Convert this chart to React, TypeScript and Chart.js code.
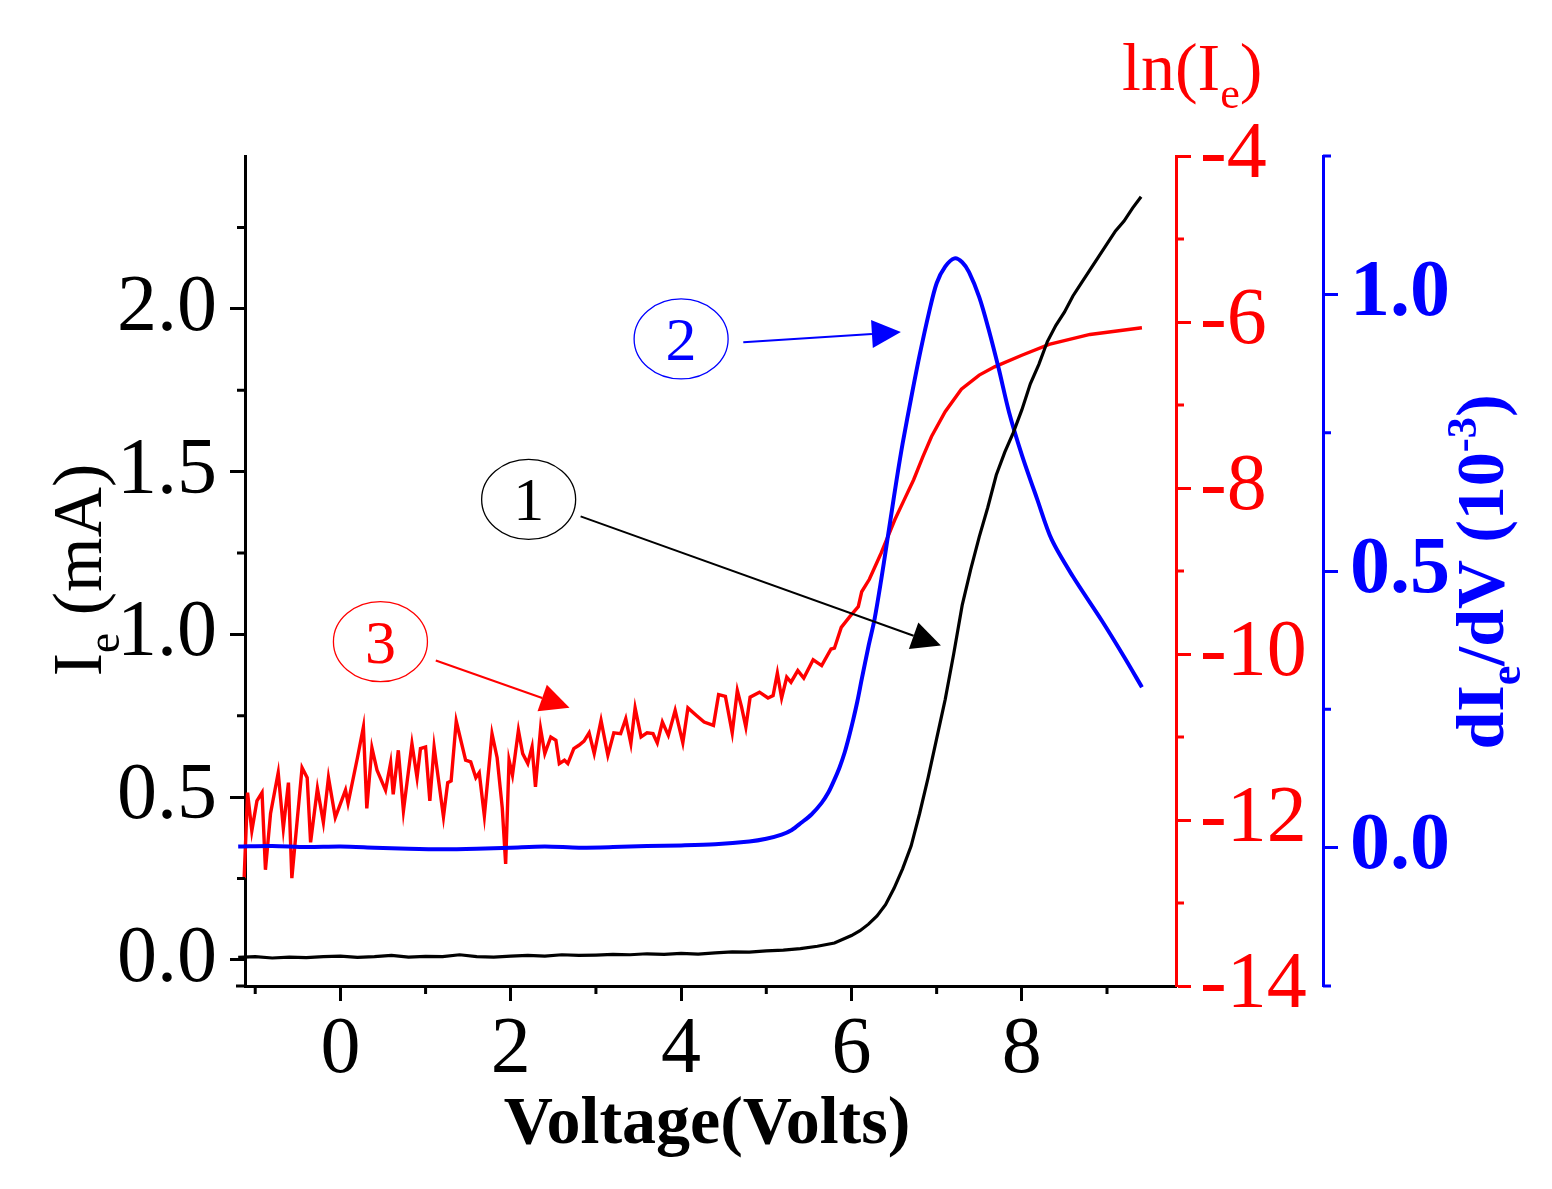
import { Chart, registerables } from 'chart.js';
import { useEffect, useRef } from 'react';

Chart.register(...registerables);

const FONT = '"Liberation Serif", "Times New Roman", Times, serif';

// curve 1: electron current Ie (mA)
const voltageIe = [-1.2, -1.0, -0.8, -0.6, -0.4, -0.2, 0.0, 0.2, 0.4, 0.6, 0.8, 1.0, 1.2, 1.4, 1.6, 1.8, 2.0, 2.2, 2.4, 2.6, 2.8, 3.0, 3.2, 3.4, 3.6, 3.8, 4.0, 4.2, 4.4, 4.6, 4.8, 5.0, 5.2, 5.4, 5.6, 5.8, 6.0, 6.1, 6.2, 6.3, 6.4, 6.5, 6.6, 6.7, 6.8, 6.9, 7.0, 7.1, 7.2, 7.3, 7.4, 7.5, 7.6, 7.7, 7.8, 7.9, 8.0, 8.1, 8.2, 8.3, 8.4, 8.5, 8.6, 8.7, 8.8, 8.9, 9.0, 9.1, 9.2, 9.3, 9.4];
const currentIe = [0.008, 0.01, 0.006, 0.009, 0.007, 0.01, 0.012, 0.008, 0.01, 0.014, 0.009, 0.011, 0.01, 0.016, 0.01, 0.009, 0.012, 0.014, 0.012, 0.016, 0.014, 0.015, 0.017, 0.016, 0.019, 0.017, 0.02, 0.018, 0.022, 0.025, 0.024, 0.028, 0.03, 0.035, 0.042, 0.052, 0.075, 0.09, 0.11, 0.135, 0.17, 0.22, 0.28, 0.35, 0.45, 0.56, 0.68, 0.8, 0.94, 1.09, 1.2, 1.3, 1.39, 1.49, 1.56, 1.62, 1.69, 1.77, 1.83, 1.9, 1.95, 1.99, 2.04, 2.08, 2.12, 2.16, 2.2, 2.24, 2.27, 2.31, 2.345];

// curve 2: derivative dIe/dV (10^-3)
const voltageDiff = [-1.2, -0.8, -0.4, 0.0, 0.4, 0.8, 1.2, 1.6, 2.0, 2.4, 2.8, 3.2, 3.6, 4.0, 4.4, 4.8, 5.0, 5.18, 5.3, 5.41, 5.53, 5.65, 5.73, 5.8, 5.86, 5.92, 5.97, 6.02, 6.07, 6.12, 6.2, 6.27, 6.35, 6.41, 6.47, 6.53, 6.6, 6.71, 6.8, 6.91, 7.0, 7.1, 7.21, 7.3, 7.38, 7.5, 7.61, 7.73, 7.85, 8.0, 8.18, 8.35, 8.6, 8.94, 9.2, 9.41];
const dIdV = [0.002, 0.003, 0.001, 0.002, 0.0, -0.002, -0.003, -0.002, 0.0, 0.002, 0.0, 0.001, 0.003, 0.004, 0.006, 0.011, 0.016, 0.0235, 0.032, 0.045, 0.06, 0.081, 0.1, 0.123, 0.145, 0.172, 0.2, 0.231, 0.265, 0.304, 0.364, 0.412, 0.485, 0.545, 0.605, 0.665, 0.73, 0.82, 0.89, 0.967, 1.02, 1.05, 1.065, 1.058, 1.04, 0.995, 0.937, 0.865, 0.787, 0.71, 0.63, 0.557, 0.49, 0.41, 0.345, 0.29];

// curve 3: ln(Ie)
const voltageLn = [-1.2, -1.18, -1.16, -1.13, -1.09, -1.04, -0.98, -0.92, -0.88, -0.82, -0.73, -0.67, -0.61, -0.57, -0.45, -0.39, -0.35, -0.27, -0.2, -0.14, -0.06, 0.06, 0.09, 0.2, 0.27, 0.31, 0.37, 0.43, 0.53, 0.59, 0.62, 0.68, 0.74, 0.84, 0.9, 0.94, 1.0, 1.05, 1.1, 1.21, 1.26, 1.3, 1.36, 1.47, 1.53, 1.59, 1.63, 1.69, 1.78, 1.84, 1.9, 1.94, 1.98, 2.02, 2.09, 2.14, 2.2, 2.25, 2.29, 2.35, 2.4, 2.47, 2.53, 2.57, 2.63, 2.67, 2.74, 2.8, 2.86, 2.92, 2.98, 3.06, 3.14, 3.21, 3.29, 3.35, 3.41, 3.46, 3.53, 3.6, 3.67, 3.72, 3.78, 3.85, 3.93, 4.02, 4.08, 4.18, 4.27, 4.38, 4.44, 4.52, 4.6, 4.66, 4.71, 4.76, 4.81, 4.92, 5.02, 5.08, 5.13, 5.18, 5.24, 5.29, 5.37, 5.44, 5.55, 5.65, 5.76, 5.8, 5.88, 5.98, 6.08, 6.12, 6.21, 6.35, 6.51, 6.62, 6.73, 6.84, 6.94, 7.1, 7.29, 7.5, 7.68, 8.0, 8.32, 8.8, 9.41];
const lnIe = [-13.5, -12.55, -13.1, -12.7, -11.67, -12.13, -11.77, -11.67, -12.6, -11.92, -11.43, -12.1, -11.55, -12.7, -11.37, -11.49, -12.27, -11.62, -12.03, -11.49, -11.97, -11.64, -11.8, -11.25, -10.88, -11.86, -11.13, -11.4, -11.64, -11.31, -11.69, -11.16, -11.89, -11.08, -11.49, -11.14, -11.12, -11.77, -11.12, -11.96, -11.55, -11.53, -10.81, -11.28, -11.3, -11.49, -11.43, -11.95, -10.96, -11.25, -11.85, -12.53, -11.28, -11.46, -10.92, -11.2, -11.32, -11.12, -11.6, -10.9, -11.2, -11.0, -11.04, -11.32, -11.28, -11.32, -11.14, -11.1, -11.05, -10.95, -11.2, -10.8, -11.22, -10.95, -10.96, -10.78, -11.08, -10.65, -11.0, -10.95, -10.96, -11.07, -10.82, -10.98, -10.68, -11.07, -10.65, -10.74, -10.82, -10.86, -10.49, -10.51, -10.95, -10.44, -10.64, -10.88, -10.52, -10.46, -10.53, -10.5, -10.23, -10.53, -10.28, -10.34, -10.2, -10.29, -10.07, -10.14, -9.94, -9.93, -9.68, -9.55, -9.43, -9.25, -9.1, -8.78, -8.38, -8.14, -7.9, -7.62, -7.38, -7.08, -6.81, -6.64, -6.54, -6.4, -6.27, -6.15, -6.07];

// labelled ticks for each axis
const xTicks = [0, 2, 4, 6, 8];
const ieTicks = [0, 0.5, 1.0, 1.5, 2.0];
const lnTicks = [-14, -12, -10, -8, -6, -4];
const diffTicks = [0, 0.5, 1.0];

// minor tick values for each axis
const xMinor = [-1, 1, 3, 5, 7, 9];
const ieMinor = [0.25, 0.75, 1.25, 1.75, 2.25];
const lnMinor = [-13, -11, -9, -7, -5];
const diffMinor = [-0.25, 0.25, 0.75, 1.25];

// numbered callouts, in data units of the x / Ie axes
const callouts = [
    { label: '1', color: '#000000', cx: 2.21, cy: 1.415, fromX: 2.82, fromY: 1.363, toX: 7.05, toY: 0.966 },
    { label: '2', color: '#0000ff', cx: 4.0, cy: 1.908, fromX: 4.73, fromY: 1.898, toX: 6.58, toY: 1.929 },
    { label: '3', color: '#ff0000', cx: 0.47, cy: 0.978, fromX: 1.12, fromY: 0.92, toX: 2.69, toY: 0.775 },
];

type Seg = { text: string; shift?: number; scale?: number };

function drawRich(ctx: CanvasRenderingContext2D, segs: Seg[], x: number, y: number, size: number, weight: string, color: string, rotate: boolean, align: 'center' | 'left') {
    ctx.save();
    ctx.translate(x, y);
    if (rotate) ctx.rotate(-Math.PI / 2);
    ctx.fillStyle = color;
    ctx.textBaseline = 'alphabetic';
    ctx.textAlign = 'left';
    const widths = segs.map((s) => {
        ctx.font = `${weight} ${size * (s.scale ?? 1)}px ${FONT}`;
        return ctx.measureText(s.text).width;
    });
    const total = widths.reduce((a, b) => a + b, 0);
    let cx = align === 'center' ? -total / 2 : 0;
    segs.forEach((s, i) => {
        ctx.font = `${weight} ${size * (s.scale ?? 1)}px ${FONT}`;
        ctx.fillText(s.text, cx, (s.shift ?? 0) * size);
        cx += widths[i];
    });
    ctx.restore();
}

function drawArrow(ctx: CanvasRenderingContext2D, x1: number, y1: number, x2: number, y2: number, color: string) {
    const ang = Math.atan2(y2 - y1, x2 - x1);
    const len = 29;
    const half = 14;
    const bx = x2 - Math.cos(ang) * len;
    const by = y2 - Math.sin(ang) * len;
    ctx.save();
    ctx.strokeStyle = color;
    ctx.fillStyle = color;
    ctx.lineWidth = 2;
    ctx.beginPath();
    ctx.moveTo(x1, y1);
    ctx.lineTo(bx, by);
    ctx.stroke();
    ctx.beginPath();
    ctx.moveTo(x2, y2);
    ctx.lineTo(bx + Math.sin(ang) * half, by - Math.cos(ang) * half);
    ctx.lineTo(bx - Math.sin(ang) * half, by + Math.cos(ang) * half);
    ctx.closePath();
    ctx.fill();
    ctx.restore();
}

const decorPlugin = {
    id: 'decor',
    afterDraw(chart: Chart) {
        const ctx = chart.ctx;
        const { x, yIe, yLn, yDiff } = chart.scales as any;
        const area = chart.chartArea;

        ctx.save();
        ctx.lineWidth = 3;
        // x axis runs a little past the left axis
        ctx.strokeStyle = '#000000';
        ctx.beginPath();
        ctx.moveTo(area.left - 9, area.bottom);
        ctx.lineTo(area.left, area.bottom);
        ctx.stroke();

        // minor ticks
        ctx.beginPath();
        xMinor.forEach((v) => {
            const px = x.getPixelForValue(v);
            ctx.moveTo(px, area.bottom);
            ctx.lineTo(px, area.bottom + 8);
        });
        ieMinor.forEach((v) => {
            const py = yIe.getPixelForValue(v);
            ctx.moveTo(area.left, py);
            ctx.lineTo(area.left - 8, py);
        });
        ctx.stroke();

        ctx.strokeStyle = '#ff0000';
        ctx.beginPath();
        lnMinor.forEach((v) => {
            const py = yLn.getPixelForValue(v);
            ctx.moveTo(yLn.left, py);
            ctx.lineTo(yLn.left + 8, py);
        });
        ctx.stroke();

        ctx.strokeStyle = '#0000ff';
        ctx.beginPath();
        diffMinor.forEach((v) => {
            const py = yDiff.getPixelForValue(v);
            ctx.moveTo(yDiff.left, py);
            ctx.lineTo(yDiff.left + 8, py);
        });
        ctx.stroke();
        ctx.restore();

        // axis titles
        drawRich(ctx, [{ text: 'Voltage(Volts)' }], 707, 1143, 68, 'bold', '#000000', false, 'center');
        drawRich(ctx, [{ text: 'I' }, { text: 'e', shift: 0.25, scale: 0.65 }, { text: ' (mA)' }], 101, 570, 70, 'normal', '#000000', true, 'center');
        drawRich(ctx, [{ text: 'ln(I' }, { text: 'e', shift: 0.27, scale: 0.65 }, { text: ')' }], 1122, 90, 68, 'normal', '#ff0000', false, 'left');
        drawRich(ctx, [{ text: 'dI' }, { text: 'e', shift: 0.25, scale: 0.65 }, { text: '/dV (10' }, { text: '-3', shift: -0.4, scale: 0.62 }, { text: ')' }], 1503, 572, 68, 'bold', '#0000ff', true, 'center');

        // numbered callouts
        callouts.forEach((c) => {
            const cx = x.getPixelForValue(c.cx);
            const cy = yIe.getPixelForValue(c.cy);
            ctx.save();
            ctx.strokeStyle = c.color;
            ctx.lineWidth = 1.3;
            ctx.beginPath();
            ctx.ellipse(cx, cy, 47, 40, 0, 0, Math.PI * 2);
            ctx.stroke();
            ctx.fillStyle = c.color;
            ctx.font = `62px ${FONT}`;
            ctx.textAlign = 'center';
            ctx.textBaseline = 'alphabetic';
            ctx.fillText(c.label, cx, cy + 21);
            ctx.restore();
            drawArrow(ctx, x.getPixelForValue(c.fromX), yIe.getPixelForValue(c.fromY), x.getPixelForValue(c.toX), yIe.getPixelForValue(c.toY), c.color);
        });
    },
};

function axisStyle(color: string, values: number[]) {
    return {
        border: { display: true, color, width: 3 },
        grid: { display: true, drawOnChartArea: false, drawTicks: true, tickLength: 15, tickWidth: 3, tickColor: color },
        afterBuildTicks: (scale: any) => { scale.ticks = values.map((value) => ({ value })); },
    };
}

export default function App() {
    const canvasRef = useRef<HTMLCanvasElement | null>(null);

    useEffect(() => {
        if (!canvasRef.current) {
            return;
        }

        const chart = new Chart(canvasRef.current, {
            type: 'line',
            data: {
                datasets: [
                    {
                        label: 'Ie',
                        data: voltageIe.map((v, i) => ({ x: v, y: currentIe[i] })),
                        yAxisID: 'yIe',
                        borderColor: '#000000',
                        borderWidth: 3.2,
                        pointRadius: 0,
                        tension: 0,
                        clip: false,
                    },
                    {
                        label: 'dIe/dV',
                        data: voltageDiff.map((v, i) => ({ x: v, y: dIdV[i] })),
                        yAxisID: 'yDiff',
                        borderColor: '#0000ff',
                        borderWidth: 4,
                        pointRadius: 0,
                        tension: 0.3,
                        clip: false,
                    },
                    {
                        label: 'ln(Ie)',
                        data: voltageLn.map((v, i) => ({ x: v, y: lnIe[i] })),
                        yAxisID: 'yLn',
                        borderColor: '#ff0000',
                        borderWidth: 3.4,
                        pointRadius: 0,
                        tension: 0,
                        clip: false,
                    },
                ],
            },
            options: {
                animation: false,
                responsive: true,
                maintainAspectRatio: false,
                layout: { padding: { top: 156, left: 0, right: 0, bottom: 0 } },
                plugins: {
                    legend: { display: false },
                    tooltip: { enabled: false },
                },
                scales: {
                    x: {
                        type: 'linear',
                        position: 'bottom',
                        min: -1.12,
                        max: 9.81,
                        ...axisStyle('#000000', xTicks),
                        ticks: {
                            autoSkip: false,
                            maxRotation: 0,
                            padding: 2,
                            color: '#000000',
                            font: { family: FONT, size: 80 },
                        },
                        afterFit: (scale: any) => { scale.height = 203; },
                    },
                    yIe: {
                        type: 'linear',
                        position: 'left',
                        min: -0.08,
                        max: 2.47,
                        ...axisStyle('#000000', ieTicks),
                        ticks: {
                            autoSkip: false,
                            padding: 13,
                            color: '#000000',
                            font: { family: FONT, size: 80 },
                            callback: (v: any) => Number(v).toFixed(1),
                        },
                        afterFit: (scale: any) => { scale.width = 245; },
                    },
                    yLn: {
                        type: 'linear',
                        position: 'right',
                        weight: 0,
                        min: -14,
                        max: -4,
                        ...axisStyle('#ff0000', lnTicks),
                        ticks: {
                            autoSkip: false,
                            padding: 9,
                            color: '#ff0000',
                            font: { family: FONT, size: 80 },
                        },
                        afterFit: (scale: any) => { scale.width = 147; },
                    },
                    yDiff: {
                        type: 'linear',
                        position: 'right',
                        weight: 1,
                        min: -0.25,
                        max: 1.25,
                        ...axisStyle('#0000ff', diffTicks),
                        ticks: {
                            autoSkip: false,
                            padding: 12,
                            color: '#0000ff',
                            font: { family: FONT, size: 80, weight: 'bold' },
                            callback: (v: any) => Number(v).toFixed(1),
                        },
                        afterFit: (scale: any) => { scale.width = 229; },
                    },
                },
            },
            plugins: [decorPlugin],
        });

        return () => chart.destroy();
    }, []);

    return (
        <div style={{ position: 'fixed', left: 0, top: 0, width: 1552, height: 1189, background: '#ffffff' }}>
            <canvas ref={canvasRef} />
        </div>
    );
}
